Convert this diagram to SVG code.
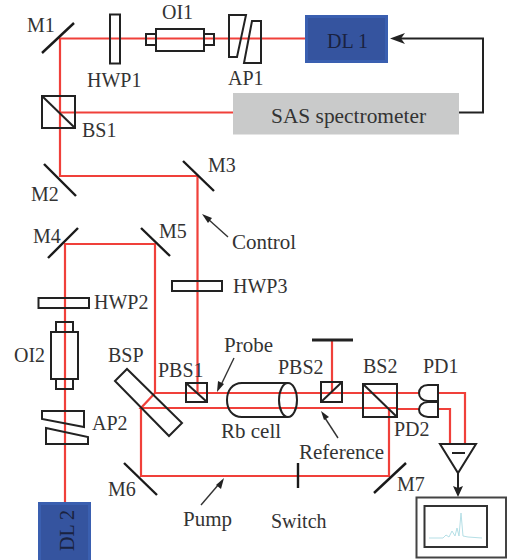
<svg xmlns="http://www.w3.org/2000/svg" width="507" height="560" viewBox="0 0 507 560">
<style>
text{font-family:"Liberation Serif","Times New Roman",serif;font-size:20px;fill:#333}
.l{font-size:21px}
.o{fill:none;stroke:#222;stroke-width:2}
.m{fill:none;stroke:#1a1a1a;stroke-width:2.4}
.b{fill:none;stroke:#f0403a;stroke-width:2.2}
.t{fill:none;stroke:#333;stroke-width:1.4}
.k{fill:none;stroke:#222;stroke-width:2}
.ah{fill:#222}
</style>
<rect width="507" height="560" fill="#fff"/>
<g id="connectors">
<path class="b" d="M305 38.500H60V176H197.500V393"/>
<path class="b" d="M60 112.500H233"/>
<path class="b" d="M65 502V244H155V393H419"/>
<path class="b" d="M155 393L141 408H397"/>
<path class="b" d="M141 408V476H389V408"/>
<path class="b" d="M332 341V393"/>
<path class="b" d="M438 393H465V444"/>
<path class="b" d="M397 409H419M438 409H450V444"/>
<path class="k" d="M459 112.500H483V38.500H396"/>
<path class="ah" d="M390 38.500L405 33L401 38.500L405 44Z"/>
<path class="k" d="M458 473V490"/>
<path class="ah" d="M458 497L453 486L458 488L463 486Z"/>
<path class="t" d="M228 237L208 219"/>
<path class="ah" d="M202 214L212 218L208 223Z"/>
<path class="t" d="M234 358L221 385"/>
<path class="ah" d="M217 392L218 381L224 384Z"/>
<path class="t" d="M338 438L325 418"/>
<path class="ah" d="M321 411L329 417L324 420Z"/>
<path class="t" d="M201 505L219 484"/>
<path class="ah" d="M224 478L221 489L216 485Z"/>
</g>
<g id="M1"><path class="m" d="M42 53L74 23"/><text x="27" y="32">M1</text></g>
<g id="HWP1"><rect class="o" x="110" y="14.500" width="10" height="49"/><text x="87" y="87">HWP1</text></g>
<g id="OI1"><rect class="o" x="146" y="34" width="10" height="11"/><rect class="o" x="204" y="34" width="10" height="11"/><rect class="o" x="156" y="29" width="48" height="22"/><text x="162" y="19">OI1</text></g>
<g id="AP1"><path class="o" d="M229 15H246L237 57H229Z"/><path class="o" d="M252 21H261V63H244Z"/><text x="228" y="85">AP1</text></g>
<g id="DL1"><rect x="305" y="15" width="83" height="48" fill="#3a5fb0"/><rect x="308" y="18" width="77" height="42" fill="#35549f"/><text x="327" y="48" style="fill:#1a2240">DL 1</text></g>
<g id="SAS"><rect x="233" y="93" width="226" height="41.500" fill="#c9caca"/><text x="271" y="123" style="font-size:21.400px">SAS spectrometer</text></g>
<g id="BS1"><rect class="o" x="42" y="96" width="33" height="32"/><path class="o" d="M42 96L75 128"/><text x="82" y="137">BS1</text></g>
<g id="M2"><path class="m" d="M44 164L76 196"/><text x="31" y="201">M2</text></g>
<g id="M3"><path class="m" d="M183 161L214 191"/><text x="208" y="172">M3</text></g>
<g id="Control"><text class="l" x="232" y="249">Control</text></g>
<g id="HWP3"><rect class="o" x="172" y="281" width="50" height="10"/><text x="233" y="293">HWP3</text></g>
<g id="M4"><path class="m" d="M48 258L78 228"/><text x="33" y="243">M4</text></g>
<g id="M5"><path class="m" d="M141 228L170 256"/><text x="159" y="238">M5</text></g>
<g id="HWP2"><rect class="o" x="38.500" y="298" width="50.500" height="10"/><text x="94" y="309">HWP2</text></g>
<g id="OI2"><rect class="o" x="56" y="322" width="17" height="10"/><rect class="o" x="56" y="379" width="17" height="10"/><rect class="o" x="51" y="332" width="27" height="47"/><text x="14" y="362">OI2</text></g>
<g id="AP2"><path class="o" d="M42 411H84V427L42 419Z"/><path class="o" d="M46 428L88 437V444H46Z"/><text x="92" y="430">AP2</text></g>
<g id="DL2"><rect x="38" y="502" width="53" height="58" fill="#3a5fb0"/><rect x="41" y="505" width="47" height="55" fill="#35549f"/><text transform="translate(74 551) rotate(-90)" style="fill:#1a2240">DL 2</text></g>
<g id="BSP"><path class="o" d="M115 381L127 369L182 423L169 436Z"/><text x="108" y="362">BSP</text></g>
<g id="PBS1"><rect class="o" x="186" y="383" width="21" height="19"/><path class="o" d="M186 383L207 402"/><text x="158" y="377">PBS1</text></g>
<g id="Probe"><text class="l" x="224" y="352">Probe</text></g>
<g id="RbCell"><path class="o" d="M288 383H242C232 383 227 391 227 400C227 409 232 417 242 417H288"/><ellipse class="o" cx="288" cy="400" rx="9" ry="17"/><text class="l" x="221" y="438">Rb cell</text></g>
<g id="PBS2"><rect class="o" x="321" y="382" width="21" height="20"/><path class="o" d="M321 402L342 382"/><path d="M312 340H353" stroke="#222" stroke-width="3" fill="none"/><text x="278" y="374">PBS2</text></g>
<g id="BS2"><rect class="o" x="363" y="384" width="34" height="33"/><path class="o" d="M363 384L397 417"/><text x="363" y="373">BS2</text></g>
<g id="PD1"><path class="o" d="M438 385H428C422 385 419 389 419 393C419 397 422 401 428 401H438Z"/><text x="423" y="373">PD1</text></g>
<g id="PD2"><path class="o" d="M438 402H428C422 402 419 406 419 409.500C419 413 422 417 428 417H438Z"/><text x="394" y="436">PD2</text></g>
<g id="Reference"><text class="l" x="299" y="459">Reference</text></g>
<g id="Amp"><path class="o" d="M440 444H476L458 473Z"/><path class="o" d="M452 453H465"/></g>
<g id="Scope"><rect x="416.500" y="497.500" width="89.500" height="60" fill="#fff" stroke="#444" stroke-width="2"/><rect x="424.500" y="506" width="62.500" height="41" fill="#fff" stroke="#333" stroke-width="2"/><path d="M429 538H443L446 535L449 537L452 531L455 536L457 528L459 536L461 513L463 536L468 537L482 538" fill="none" stroke="#b5dfe6" stroke-width="1"/></g>
<g id="M6"><path class="m" d="M124 463L157 495"/><text x="108" y="496">M6</text></g>
<g id="M7"><path class="m" d="M374 493L406 463"/><text x="397" y="491">M7</text></g>
<g id="Pump"><text class="l" x="183" y="526">Pump</text></g>
<g id="Switch"><path class="m" d="M298 463V488"/><text x="271" y="528">Switch</text></g>
</svg>
